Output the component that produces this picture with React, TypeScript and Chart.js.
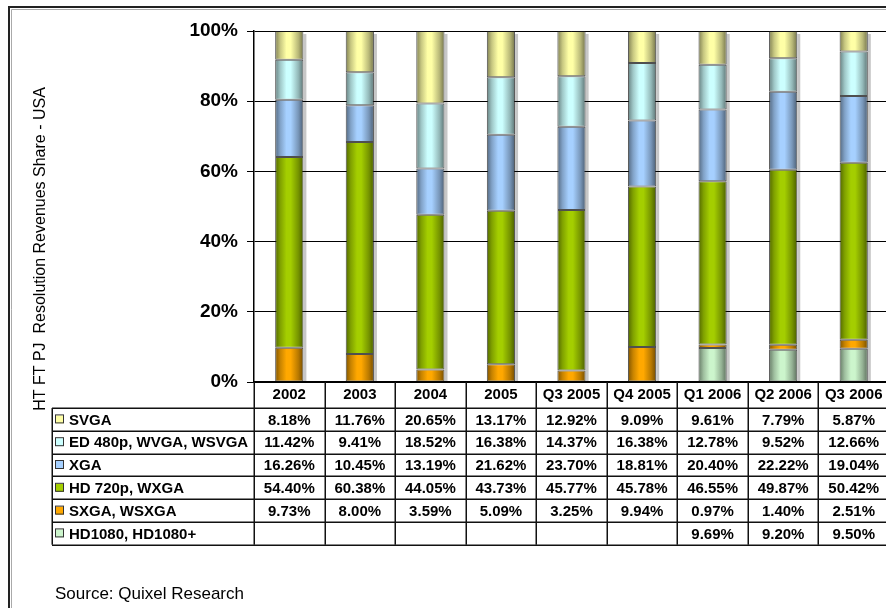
import React, { useEffect, useRef } from 'react';
import { Chart, registerables } from 'chart.js';

Chart.register(...registerables);

const categories = ['2002', '2003', '2004', '2005', 'Q3 2005', 'Q4 2005', 'Q1 2006', 'Q2 2006', 'Q3 2006'];
const tableSeries = ['SVGA', 'ED 480p, WVGA, WSVGA', 'XGA', 'HD 720p, WXGA', 'SXGA, WSXGA', 'HD1080, HD1080+'];
const svga = [8.18, 11.76, 20.65, 13.17, 12.92, 9.09, 9.61, 7.79, 5.87];
const ed480 = [11.42, 9.41, 18.52, 16.38, 14.37, 16.38, 12.78, 9.52, 12.66];
const xga = [16.26, 10.45, 13.19, 21.62, 23.7, 18.81, 20.4, 22.22, 19.04];
const hd720 = [54.4, 60.38, 44.05, 43.73, 45.77, 45.78, 46.55, 49.87, 50.42];
const sxga = [9.73, 8.0, 3.59, 5.09, 3.25, 9.94, 0.97, 1.4, 2.51];
const hd1080: (number | null)[] = [null, null, null, null, null, null, 9.69, 9.2, 9.5];
const yTickValues = [0, 20, 40, 60, 80, 100];
const yTitle = 'HT FT PJ  Resolution Revenues Share - USA';
const sourceText = 'Source: Quixel Research';

// table row order (top to bottom) matches tableSeries
const tableValues = [svga, ed480, xga, hd720, sxga, hd1080];
const seriesColors = ['#FFFFA6', '#CCFFFF', '#A6D0FF', '#A4CE00', '#FFA800', '#CCF5CC'];

const FONT = '"Liberation Sans", Arial, Helvetica, sans-serif';
const BAR_PCT = 0.4;

function shade(hex: string, f: number) {
  const n = parseInt(hex.slice(1), 16);
  const r = Math.round(((n >> 16) & 255) * f);
  const g = Math.round(((n >> 8) & 255) * f);
  const b = Math.round((n & 255) * f);
  return `rgb(${r},${g},${b})`;
}

function barFill(base: string) {
  return (ctx: any) => {
    const chart = ctx.chart;
    const area = chart.chartArea;
    if (!area || ctx.type !== 'data' || !chart.scales || !chart.scales.x) return base;
    const cx = chart.scales.x.getPixelForValue(ctx.dataIndex);
    const w = ((area.right - area.left) / categories.length) * BAR_PCT;
    const g = chart.ctx.createLinearGradient(cx - w / 2, 0, cx + w / 2, 0);
    g.addColorStop(0, shade(base, 0.5));
    g.addColorStop(0.18, shade(base, 0.78));
    g.addColorStop(0.4, base);
    g.addColorStop(0.55, base);
    g.addColorStop(0.82, shade(base, 0.72));
    g.addColorStop(1, shade(base, 0.45));
    return g;
  };
}

const shadowPlugin = {
  id: 'barShadow',
  beforeDatasetsDraw(chart: any) {
    const { ctx, chartArea } = chart;
    const n = categories.length;
    const w = ((chartArea.right - chartArea.left) / n) * BAR_PCT;
    ctx.save();
    ctx.fillStyle = 'rgba(0,0,0,0.22)';
    for (let j = 0; j < n; j++) {
      let top = chartArea.bottom;
      chart.data.datasets.forEach((ds: any, i: number) => {
        if (ds.data[j] == null) return;
        const el = chart.getDatasetMeta(i).data[j];
        if (el && el.y < top) top = el.y;
      });
      const cx = chart.scales.x.getPixelForValue(j);
      ctx.fillRect(cx + w / 2, top + 3, 3, chartArea.bottom - top - 3);
    }
    ctx.restore();
  },
};

const tablePlugin = {
  id: 'dataTable',
  afterDraw(chart: any) {
    const { ctx, chartArea } = chart;
    const n = categories.length;
    const colW = (chartArea.right - chartArea.left) / n;
    const tableLeft = 52;
    const headTop = chartArea.bottom;
    const rowTop = 408;
    const rowH = 22.8;
    const rows = tableSeries.length;
    const tableBottom = rowTop + rows * rowH;

    ctx.save();
    ctx.strokeStyle = '#111';
    ctx.lineWidth = 1.5;
    for (let r = 0; r <= rows; r++) {
      const y = Math.round(rowTop + r * rowH) + 0.25;
      ctx.beginPath();
      ctx.moveTo(tableLeft, y);
      ctx.lineTo(chartArea.right + 2, y);
      ctx.stroke();
    }
    for (let j = 0; j <= n; j++) {
      const x = Math.round(chartArea.left + j * colW) + 0.25;
      ctx.beginPath();
      ctx.moveTo(x, headTop);
      ctx.lineTo(x, tableBottom);
      ctx.stroke();
    }
    ctx.beginPath();
    ctx.moveTo(tableLeft + 0.25, rowTop);
    ctx.lineTo(tableLeft + 0.25, tableBottom);
    ctx.stroke();

    ctx.font = `bold 15px ${FONT}`;
    ctx.textBaseline = 'middle';
    ctx.fillStyle = '#000';
    for (let r = 0; r < rows; r++) {
      const cy = rowTop + r * rowH + rowH / 2 + 1;
      ctx.fillStyle = seriesColors[r];
      ctx.fillRect(56, cy - 5, 8, 8);
      ctx.strokeStyle = '#333';
      ctx.lineWidth = 1;
      ctx.strokeRect(55.5, cy - 5.5, 8, 8);
      ctx.fillStyle = '#000';
      ctx.textAlign = 'left';
      ctx.fillText(tableSeries[r], 69, cy);
      ctx.textAlign = 'center';
      const vals = tableValues[r];
      for (let j = 0; j < n; j++) {
        const v = vals[j];
        if (v == null) continue;
        ctx.fillText(v.toFixed(2) + '%', chartArea.left + (j + 0.5) * colW, cy);
      }
    }

    ctx.save();
    ctx.translate(41, 249);
    ctx.rotate(-Math.PI / 2);
    ctx.font = `16px ${FONT}`;
    ctx.textAlign = 'center';
    ctx.textBaseline = 'middle';
    ctx.fillStyle = '#000';
    ctx.fillText(yTitle, 0, 0);
    ctx.restore();

    ctx.font = `17px ${FONT}`;
    ctx.textAlign = 'left';
    ctx.textBaseline = 'alphabetic';
    ctx.fillStyle = '#000';
    ctx.fillText(sourceText, 55, 599);

    ctx.strokeStyle = '#222';
    ctx.lineWidth = 2;
    ctx.beginPath();
    ctx.moveTo(9, 700);
    ctx.lineTo(9, 7);
    ctx.lineTo(900, 7);
    ctx.stroke();
    ctx.strokeStyle = '#aaa';
    ctx.lineWidth = 1;
    ctx.beginPath();
    ctx.moveTo(11.5, 700);
    ctx.lineTo(11.5, 9.5);
    ctx.lineTo(900, 9.5);
    ctx.stroke();
    ctx.restore();
  },
};

export default function App() {
  const ref = useRef<HTMLCanvasElement | null>(null);

  useEffect(() => {
    if (!ref.current) return;
    const datasets = [
      { label: tableSeries[5], data: hd1080, color: seriesColors[5] },
      { label: tableSeries[4], data: sxga, color: seriesColors[4] },
      { label: tableSeries[3], data: hd720, color: seriesColors[3] },
      { label: tableSeries[2], data: xga, color: seriesColors[2] },
      { label: tableSeries[1], data: ed480, color: seriesColors[1] },
      { label: tableSeries[0], data: svga, color: seriesColors[0] },
    ].map((d) => ({
      label: d.label,
      data: d.data,
      backgroundColor: barFill(d.color),
      borderColor: 'rgba(20,20,20,0.75)',
      borderWidth: 1,
      borderSkipped: false as const,
      barPercentage: BAR_PCT,
      categoryPercentage: 1,
    }));

    const chart = new Chart(ref.current, {
      type: 'bar',
      data: { labels: categories, datasets },
      plugins: [shadowPlugin, tablePlugin],
      options: {
        animation: false,
        responsive: false,
        devicePixelRatio: 1,
        layout: { padding: { left: 0, top: 31, right: 11, bottom: 200 } },
        plugins: { legend: { display: false }, tooltip: { enabled: false }, title: { display: false } },
        scales: {
          x: {
            stacked: true,
            offset: true,
            grid: { display: false, drawOnChartArea: false, drawTicks: false },
            border: { display: true, color: '#000', width: 2 },
            ticks: {
              color: '#000',
              font: { family: FONT, size: 15, weight: 'bold' },
              padding: 4,
              maxRotation: 0,
              minRotation: 0,
              autoSkip: false,
            },
            afterFit: (s: any) => {
              s.height = 26;
            },
          },
          y: {
            stacked: true,
            min: 0,
            max: 100,
            afterBuildTicks: (s: any) => {
              s.ticks = yTickValues.map((v) => ({ value: v }));
            },
            grid: { color: '#000', lineWidth: 1, tickLength: 7, drawTicks: true },
            border: { display: true, color: '#000', width: 1.5 },
            ticks: {
              color: '#000',
              font: { family: FONT, size: 19, weight: 'bold' },
              padding: 9,
              callback: (v: any) => v + '%',
            },
            afterFit: (s: any) => {
              s.width = 254;
            },
          },
        },
      },
    });
    return () => chart.destroy();
  }, []);

  return (
    <div style={{ width: 886, height: 608, overflow: 'hidden', position: 'relative', background: '#fff' }}>
      <style>{'html,body{margin:0;padding:0;overflow:hidden;background:#fff}'}</style>
      <canvas ref={ref} width={900} height={608} style={{ display: 'block' }} />
    </div>
  );
}
